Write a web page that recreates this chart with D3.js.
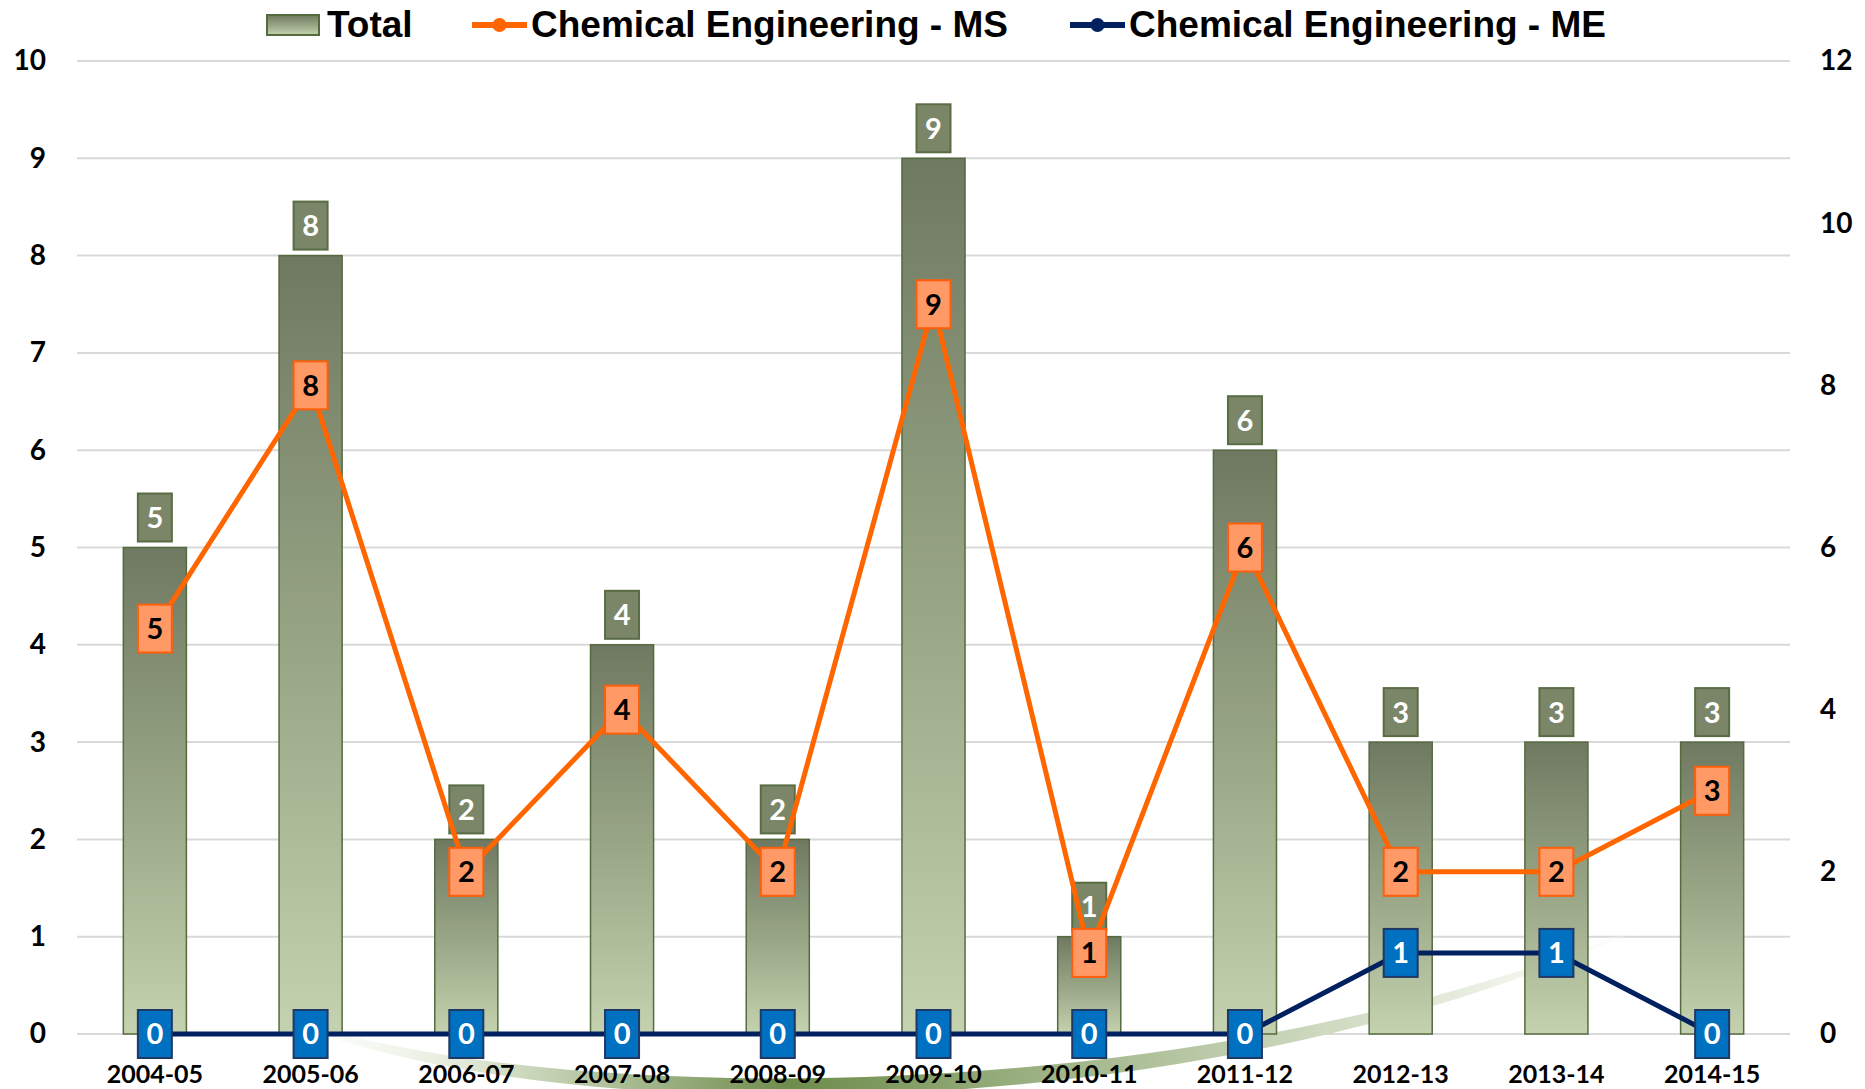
<!DOCTYPE html>
<html>
<head>
<meta charset="utf-8">
<script src="https://cdn.jsdelivr.net/npm/d3@7"></script>
<style>
  html, body { margin: 0; padding: 0; background: #fff; }
  svg { display: block; }
</style>
</head>
<body>
<script>
const categories = ["2004-05","2005-06","2006-07","2007-08","2008-09","2009-10","2010-11","2011-12","2012-13","2013-14","2014-15"];
const totalValues = [5, 8, 2, 4, 2, 9, 1, 6, 3, 3, 3];
const msValues = [5, 8, 2, 4, 2, 9, 1, 6, 2, 2, 3];
const meValues = [0, 0, 0, 0, 0, 0, 0, 0, 1, 1, 0];
const leftTicks = [0, 1, 2, 3, 4, 5, 6, 7, 8, 9, 10];
const rightTicks = [0, 2, 4, 6, 8, 10, 12];
const seriesNames = ["Total", "Chemical Engineering - MS", "Chemical Engineering - ME"];

const W = 1865, H = 1089;
const svg = d3.select("body").append("svg").attr("width", W).attr("height", H);
const defs = svg.append("defs");

const barGrad = defs.append("linearGradient").attr("id", "barGrad")
  .attr("x1", 0).attr("y1", 0).attr("x2", 0).attr("y2", 1);
barGrad.append("stop").attr("offset", "0%").attr("stop-color", "#6F7961");
barGrad.append("stop").attr("offset", "50%").attr("stop-color", "#98A585");
barGrad.append("stop").attr("offset", "100%").attr("stop-color", "#C4D2AF");

const swGrad = defs.append("linearGradient").attr("id", "swGrad")
  .attr("gradientUnits", "userSpaceOnUse")
  .attr("x1", 240).attr("y1", 0).attr("x2", 1690).attr("y2", 0);
swGrad.append("stop").attr("offset", "0%").attr("stop-color", "#ffffff").attr("stop-opacity", 0);
swGrad.append("stop").attr("offset", "15%").attr("stop-color", "#E4EBDA").attr("stop-opacity", 1);
swGrad.append("stop").attr("offset", "38%").attr("stop-color", "#6E8C4C").attr("stop-opacity", 1);
swGrad.append("stop").attr("offset", "60%").attr("stop-color", "#A9BC93").attr("stop-opacity", 1);
swGrad.append("stop").attr("offset", "85%").attr("stop-color", "#E8EEE0").attr("stop-opacity", 1);
swGrad.append("stop").attr("offset", "100%").attr("stop-color", "#ffffff").attr("stop-opacity", 0);

const x = d3.scaleBand().domain(categories).range([77, 1790]).paddingInner(0.595).paddingOuter(0.2975);
const yL = d3.scaleLinear().domain([0, 10]).range([1034, 61]);
const yR = d3.scaleLinear().domain([0, 12]).range([1034, 61]);
const cx = d => x(d) + x.bandwidth() / 2;

// gridlines
svg.append("g").selectAll("line").data(leftTicks).join("line")
  .attr("x1", 77).attr("x2", 1790)
  .attr("y1", d => yL(d)).attr("y2", d => yL(d))
  .attr("stroke", "#D9D9D9").attr("stroke-width", 2);

// decorative swoosh
svg.append("path")
  .attr("d", "M240,1000 C480,1132 1210,1150 1690,905 C1210,1126 480,1110 240,1000 Z")
  .attr("fill", "url(#swGrad)");

// left axis labels
const axL = svg.append("g").attr("transform", "translate(60,0)")
  .call(d3.axisLeft(yL).tickValues(leftTicks).tickSize(0).tickPadding(14).tickFormat(d3.format("d")));
axL.select(".domain").remove();
axL.selectAll("text").attr("font-family", "Lato, 'Open Sans', sans-serif").attr("font-weight", 700)
  .attr("font-size", 28).attr("fill", "#000");

// right axis labels
const axR = svg.append("g").attr("transform", "translate(1806,0)")
  .call(d3.axisRight(yR).tickValues(rightTicks).tickSize(0).tickPadding(14).tickFormat(d3.format("d")));
axR.select(".domain").remove();
axR.selectAll("text").attr("font-family", "Lato, 'Open Sans', sans-serif").attr("font-weight", 700)
  .attr("font-size", 28).attr("fill", "#000");

// bottom axis labels
const axB = svg.append("g").attr("transform", "translate(0,1065)")
  .call(d3.axisBottom(x).tickSize(0).tickPadding(0));
axB.select(".domain").remove();
axB.selectAll("text").attr("font-family", "Lato, 'Open Sans', sans-serif").attr("font-weight", 700)
  .attr("font-size", 25).attr("fill", "#000").attr("dy", "0.7em");

// bars
const data = categories.map((c, i) => ({ c, total: totalValues[i], ms: msValues[i], me: meValues[i] }));
svg.append("g").selectAll("rect").data(data).join("rect")
  .attr("x", d => x(d.c)).attr("width", x.bandwidth())
  .attr("y", d => yL(d.total)).attr("height", d => yL(0) - yL(d.total))
  .attr("fill", "url(#barGrad)").attr("stroke", "#566A40").attr("stroke-width", 1.5);

const BW = 34, BH = 48;
const fontBox = "Lato, 'Open Sans', sans-serif";

// total labels
const tl = svg.append("g").selectAll("g").data(data).join("g")
  .attr("transform", d => `translate(${cx(d.c)},${yL(d.total) - 6 - BH / 2})`);
tl.append("rect").attr("x", -BW / 2).attr("y", -BH / 2).attr("width", BW).attr("height", BH)
  .attr("fill", "#7B8669").attr("stroke", "#596C44").attr("stroke-width", 2);
tl.append("text").text(d => d.total).attr("text-anchor", "middle").attr("dy", "0.36em")
  .attr("font-family", fontBox).attr("font-weight", 700).attr("font-size", 29).attr("fill", "#fff");

// lines
const lineMS = d3.line().x(d => cx(d.c)).y(d => yR(d.ms));
const lineME = d3.line().x(d => cx(d.c)).y(d => yR(d.me));
svg.append("path").datum(data).attr("d", lineMS).attr("fill", "none")
  .attr("stroke", "#FF6600").attr("stroke-width", 5).attr("stroke-linejoin", "round");
svg.append("path").datum(data).attr("d", lineME).attr("fill", "none")
  .attr("stroke", "#002060").attr("stroke-width", 5).attr("stroke-linejoin", "round");

// markers
function markers(key, fill, stroke, txt) {
  const g = svg.append("g").selectAll("g").data(data).join("g")
    .attr("transform", d => `translate(${cx(d.c)},${yR(d[key])})`);
  g.append("rect").attr("x", -BW / 2).attr("y", -BH / 2).attr("width", BW).attr("height", BH)
    .attr("fill", fill).attr("stroke", stroke).attr("stroke-width", 2);
  g.append("text").text(d => d[key]).attr("text-anchor", "middle").attr("dy", "0.36em")
    .attr("font-family", fontBox).attr("font-weight", 700).attr("font-size", 29).attr("fill", txt);
}
markers("ms", "#FF9966", "#FF5E0A", "#000");
markers("me", "#0070C0", "#1F3864", "#fff");

// legend
const lg = svg.append("g");
const legFont = "'Liberation Sans', Arial, sans-serif";
lg.append("rect").attr("x", 267).attr("y", 15).attr("width", 52).attr("height", 20)
  .attr("fill", "url(#barGrad)").attr("stroke", "#566A40").attr("stroke-width", 2);
lg.append("text").attr("x", 327).attr("y", 37).text(seriesNames[0])
  .attr("font-family", legFont).attr("font-weight", 700).attr("font-size", 37).attr("fill", "#000");

[[472, "#FF6600", seriesNames[1]], [1070, "#002060", seriesNames[2]]].forEach(([lx, col, name]) => {
  lg.append("line").attr("x1", lx).attr("x2", lx + 55).attr("y1", 25).attr("y2", 25)
    .attr("stroke", col).attr("stroke-width", 6);
  lg.append("circle").attr("cx", lx + 27.5).attr("cy", 25).attr("r", 7).attr("fill", col);
  lg.append("text").attr("x", lx + 59).attr("y", 37).text(name)
    .attr("font-family", legFont).attr("font-weight", 700).attr("font-size", 37).attr("fill", "#000");
});
</script>
</body>
</html>
